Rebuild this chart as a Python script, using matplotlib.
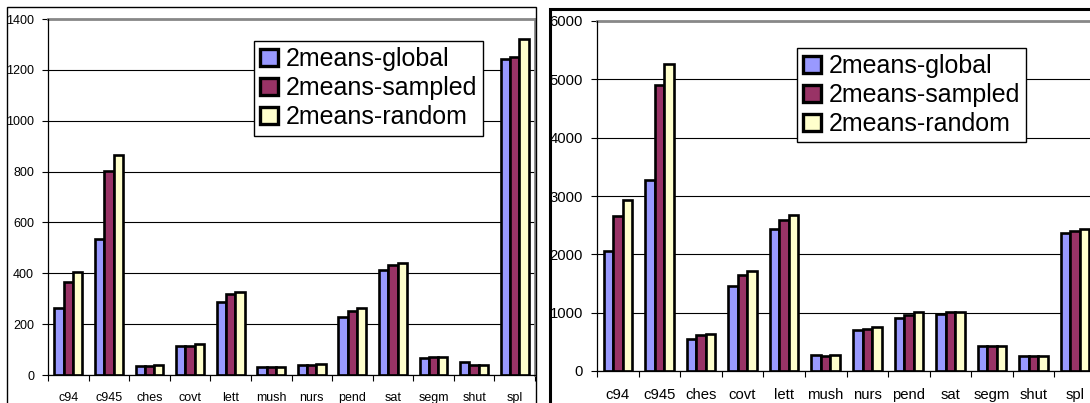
import numpy as np
import matplotlib.pyplot as plt
from matplotlib.patches import Rectangle

plt.rcParams['font.family'] = ['Liberation Sans', 'DejaVu Sans']

datasets = ["c94", "c945", "ches", "covt", "lett", "mush", "nurs", "pend", "sat", "segm", "shut", "spl"]
methods = ["2means-global", "2means-sampled", "2means-random"]
colors = ["#9999FF", "#993366", "#FFFFCC"]

# left chart
left_global = [262, 534, 37, 113, 288, 31, 39, 229, 414, 68, 52, 1241]
left_sampled = [364, 801, 37, 115, 318, 31, 41, 250, 432, 71, 39, 1251]
left_random = [406, 865, 39, 122, 325, 31, 43, 262, 440, 71, 39, 1323]

# right chart
right_global = [2055, 3272, 557, 1452, 2440, 281, 706, 901, 976, 436, 264, 2365]
right_sampled = [2658, 4897, 614, 1642, 2595, 253, 718, 964, 1005, 436, 264, 2400]
right_random = [2928, 5264, 631, 1722, 2681, 276, 752, 1010, 1016, 436, 264, 2428]

W, H = 1090, 403
fig = plt.figure(figsize=(W / 100, H / 100), dpi=100)


def px(x0, y_top, x1, y_bot):
    return [x0 / W, 1 - y_bot / H, (x1 - x0) / W, (y_bot - y_top) / H]


def draw(ax, series, ymax, ystep, fsize, leg_anchor):
    x = np.arange(len(datasets))
    bw = 0.228
    for k, vals in enumerate(series):
        ax.bar(x + (k - 1) * bw, vals, bw, color=colors[k], edgecolor="black",
               linewidth=1.9, label=methods[k], zorder=3)
    ax.set_xlim(-0.5, len(datasets) - 0.5)
    ax.set_ylim(0, ymax)
    ax.set_yticks(np.arange(0, ymax + 1, ystep))
    ax.yaxis.grid(True, color="black", linewidth=0.8, zorder=0)
    ax.set_axisbelow(True)
    ax.set_xticks(x)
    ax.set_xticklabels(datasets, fontsize=fsize)
    ax.set_xticks(np.arange(-0.5, len(datasets)), minor=True)
    ax.tick_params(axis="x", which="major", length=0, pad=12)
    ax.tick_params(axis="x", which="minor", length=4, width=0.8, direction="out")
    ax.tick_params(axis="y", length=4, width=0.8, labelsize=fsize, pad=6)
    for s in ("left", "bottom"):
        ax.spines[s].set_color("black")
        ax.spines[s].set_linewidth(0.9)
    for s in ("top", "right"):
        ax.spines[s].set_color("#888888")
        ax.spines[s].set_linewidth(2)
    ax.spines["left"].set_zorder(4)
    ax.spines["bottom"].set_zorder(4)
    leg = ax.legend(loc="upper left", bbox_to_anchor=leg_anchor, fontsize=18,
                    frameon=True, fancybox=False, framealpha=1, edgecolor="black",
                    handlelength=0.72, handleheight=0.72, handletextpad=0.3,
                    labelspacing=0.2, borderpad=0.25, borderaxespad=0)
    leg.get_frame().set_linewidth(1.0)
    for h in leg.legend_handles:
        h.set_linewidth(2.4)


ax1 = fig.add_axes(px(48, 19, 535, 375))
draw(ax1, [left_global, left_sampled, left_random], 1400, 200, 9, (0.423, 0.938))

ax2 = fig.add_axes(px(597, 21, 1096, 371))
draw(ax2, [right_global, right_sampled, right_random], 6000, 1000, 10.7, (0.401, 0.923))

# panel frames
fig.add_artist(Rectangle((7 / W, -0.1), (536 - 7) / W, 1.1 - 7 / H,
                         transform=fig.transFigure, fill=False,
                         edgecolor="black", linewidth=1.0))
fig.add_artist(Rectangle((550 / W, -0.1), 0.6, 1.1 - 8.7 / H,
                         transform=fig.transFigure, fill=False,
                         edgecolor="black", linewidth=2.2))

fig.savefig("out.png", dpi=100)
